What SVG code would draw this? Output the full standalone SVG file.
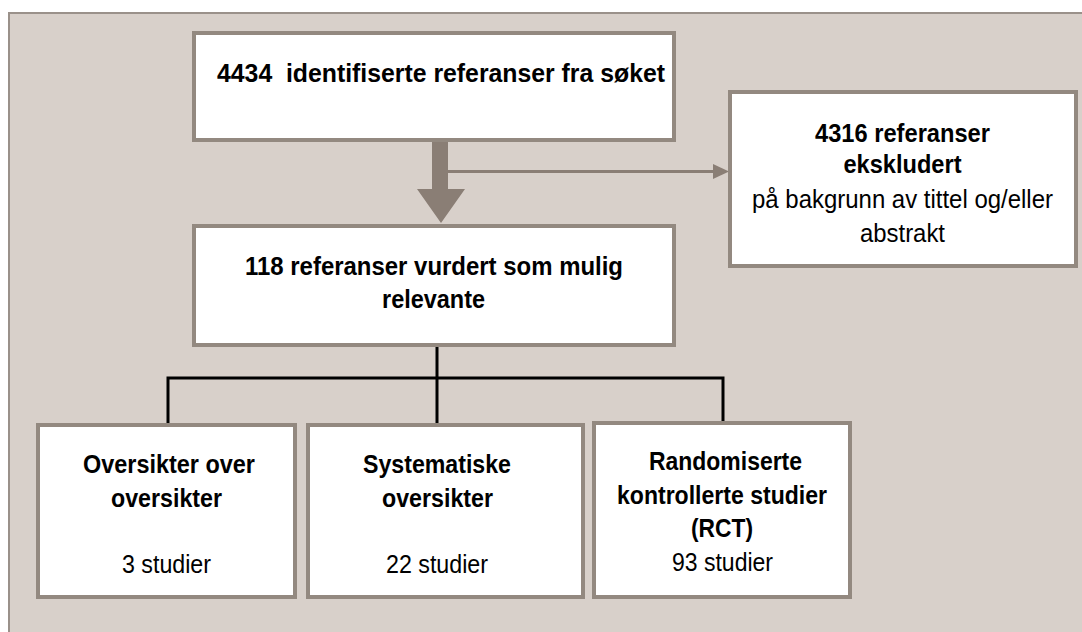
<svg xmlns="http://www.w3.org/2000/svg" width="1082" height="632" viewBox="0 0 1082 632">
<style>
.box{fill:#ffffff;stroke:#938980;stroke-width:4}
.t{font-family:"Liberation Sans",Arial,sans-serif;font-size:26px;fill:#000;text-anchor:middle}
.b{font-weight:bold}
.conn{stroke:#000;stroke-width:3;fill:none}
</style>
<rect x="0" y="0" width="1082" height="632" fill="#ffffff"/>
<rect x="9" y="13" width="1100" height="700" fill="#d8d0ca" stroke="#9a918a" stroke-width="2"/>
<g id="connectors">
  <polygon points="432,141 448,141 448,189 465,189 441,223 417,189 432,189" fill="#8a7e75"/>
  <line x1="448" y1="171.5" x2="714" y2="171.5" stroke="#8a7e75" stroke-width="3"/>
  <polygon points="713,164 729,171.5 713,179" fill="#8a7e75"/>
  <path class="conn" d="M437,346 V423 M168,378 H723 M168,376.5 V424 M723,376.5 V422"/>
</g>
<g id="n1">
  <rect class="box" x="194" y="33" width="480" height="107"/>
  <text class="t b" x="441" y="82" style="white-space:pre" textLength="448" lengthAdjust="spacingAndGlyphs">4434  identifiserte referanser fra søket</text>
</g>
<g id="n2">
  <rect class="box" x="730" y="92" width="346" height="174"/>
  <text class="t b" x="902.5" y="142" textLength="175" lengthAdjust="spacingAndGlyphs">4316 referanser</text>
  <text class="t b" x="902.5" y="173" textLength="118" lengthAdjust="spacingAndGlyphs">ekskludert</text>
  <text class="t" x="902.5" y="208" textLength="301" lengthAdjust="spacingAndGlyphs">på bakgrunn av tittel og/eller</text>
  <text class="t" x="902.5" y="242" textLength="85" lengthAdjust="spacingAndGlyphs">abstrakt</text>
</g>
<g id="n3">
  <rect class="box" x="194" y="226" width="480" height="119"/>
  <text class="t b" x="434" y="275" textLength="378" lengthAdjust="spacingAndGlyphs">118 referanser vurdert som mulig</text>
  <text class="t b" x="433.5" y="308" textLength="103" lengthAdjust="spacingAndGlyphs">relevante</text>
</g>
<g id="n4">
  <rect class="box" x="38" y="425" width="257" height="172"/>
  <text class="t b" x="169" y="473" textLength="172" lengthAdjust="spacingAndGlyphs">Oversikter over</text>
  <text class="t b" x="166.5" y="507" textLength="111" lengthAdjust="spacingAndGlyphs">oversikter</text>
  <text class="t" x="166.5" y="573" textLength="89" lengthAdjust="spacingAndGlyphs">3 studier</text>
</g>
<g id="n5">
  <rect class="box" x="308" y="425" width="275" height="172"/>
  <text class="t b" x="437" y="473" textLength="148" lengthAdjust="spacingAndGlyphs">Systematiske</text>
  <text class="t b" x="437.5" y="507" textLength="111" lengthAdjust="spacingAndGlyphs">oversikter</text>
  <text class="t" x="437" y="573" textLength="102" lengthAdjust="spacingAndGlyphs">22 studier</text>
</g>
<g id="n6">
  <rect class="box" x="594" y="423" width="256" height="174"/>
  <text class="t b" x="725.5" y="470" textLength="153" lengthAdjust="spacingAndGlyphs">Randomiserte</text>
  <text class="t b" x="722" y="504" textLength="210" lengthAdjust="spacingAndGlyphs">kontrollerte studier</text>
  <text class="t b" x="722" y="537" textLength="62" lengthAdjust="spacingAndGlyphs">(RCT)</text>
  <text class="t" x="722.5" y="571" textLength="101" lengthAdjust="spacingAndGlyphs">93 studier</text>
</g>
</svg>
